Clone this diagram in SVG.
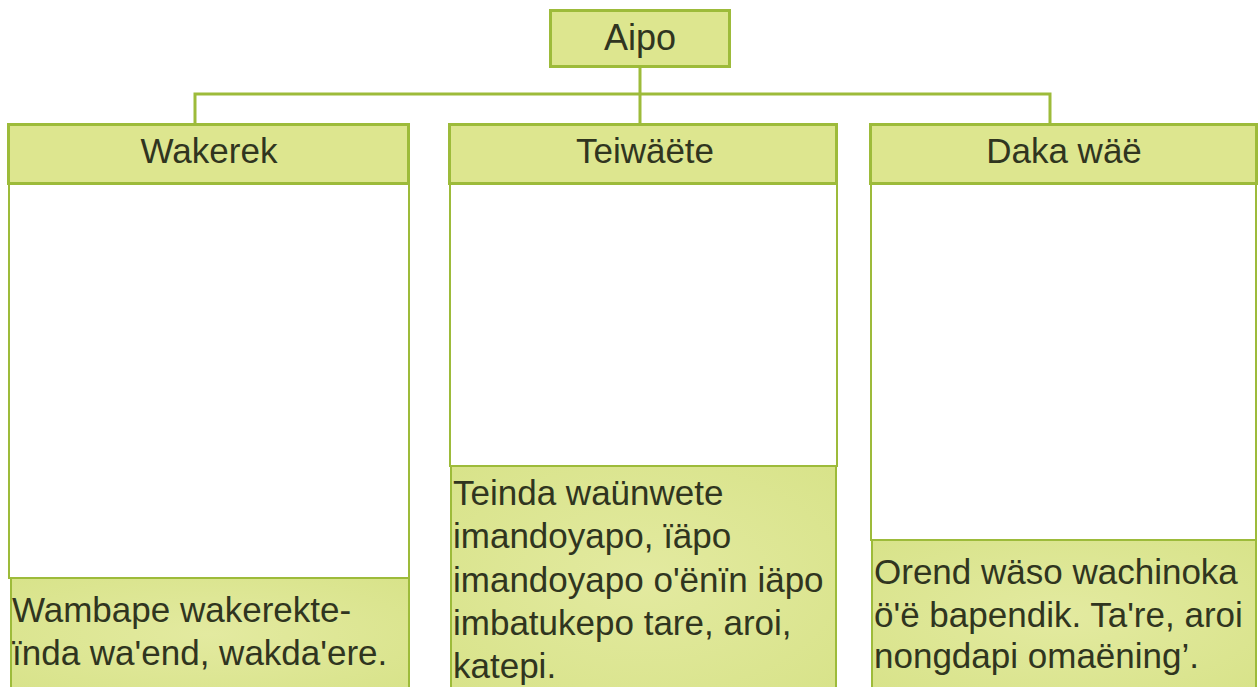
<svg xmlns="http://www.w3.org/2000/svg" width="1259" height="687" viewBox="0 0 1259 687">
<defs>
<radialGradient id="g" cx="0.5" cy="0.5" r="0.7">
<stop offset="0" stop-color="#e3eaa0"/>
<stop offset="1" stop-color="#d8e38a"/>
</radialGradient>
<style>
.box{fill:#dde68f;stroke:#9dbb3a;stroke-width:3}
.white{fill:#ffffff;stroke:#9dbb3a;stroke-width:2}
.tbox{fill:url(#g);stroke:#9dbb3a;stroke-width:2}
.conn{fill:none;stroke:#9dbb3a;stroke-width:3}
.t{font-family:"Liberation Sans",Arial,sans-serif;fill:#30351f}
.h{font-size:35px;text-anchor:middle}
.b{font-size:35px}
</style>
</defs>
<rect width="1259" height="687" fill="#ffffff"/>
<g id="connectors">
<path class="conn" d="M640 67 V124 M195 124 V94 H1050 V124"/>
</g>
<g id="aipo">
<rect class="box" x="550.5" y="10.5" width="179" height="56"/>
<text class="t h" x="640" y="50" style="font-size:36px">Aipo</text>
</g>
<g id="wakerek">
<rect class="white" x="9" y="184" width="400" height="394"/>
<rect class="tbox" x="11" y="578" width="398" height="112"/>
<rect class="box" x="8.5" y="124.5" width="400" height="59"/>
<text class="t h" x="209" y="163">Wakerek</text>
<text class="t b" x="12" y="622">Wambape wakerekte-</text>
<text class="t b" x="12" y="665">ïnda wa'end, wakda'ere.</text>
</g>
<g id="teiwaete">
<rect class="white" x="450" y="184" width="387" height="282"/>
<rect class="tbox" x="451" y="466" width="385" height="224"/>
<rect class="box" x="449.5" y="124.5" width="387" height="59"/>
<text class="t h" x="645" y="163">Teiwäëte</text>
<text class="t b" x="453" y="505">Teinda waünwete</text>
<text class="t b" x="453" y="548">imandoyapo, ïäpo</text>
<text class="t b" x="453" y="592">imandoyapo o'ënïn iäpo</text>
<text class="t b" x="453" y="635">imbatukepo tare, aroi,</text>
<text class="t b" x="453" y="678">katepi.</text>
</g>
<g id="daka">
<rect class="white" x="871" y="184" width="385" height="356"/>
<rect class="tbox" x="872" y="540" width="384" height="150"/>
<rect class="box" x="870.5" y="124.5" width="386" height="59"/>
<text class="t h" x="1064" y="163">Daka wäë</text>
<text class="t b" x="874" y="584">Orend wäso wachinoka</text>
<text class="t b" x="874" y="627">ö'ë bapendik. Ta're, aroi</text>
<text class="t b" x="874" y="668">nongdapi omaëning’.</text>
</g>
</svg>
